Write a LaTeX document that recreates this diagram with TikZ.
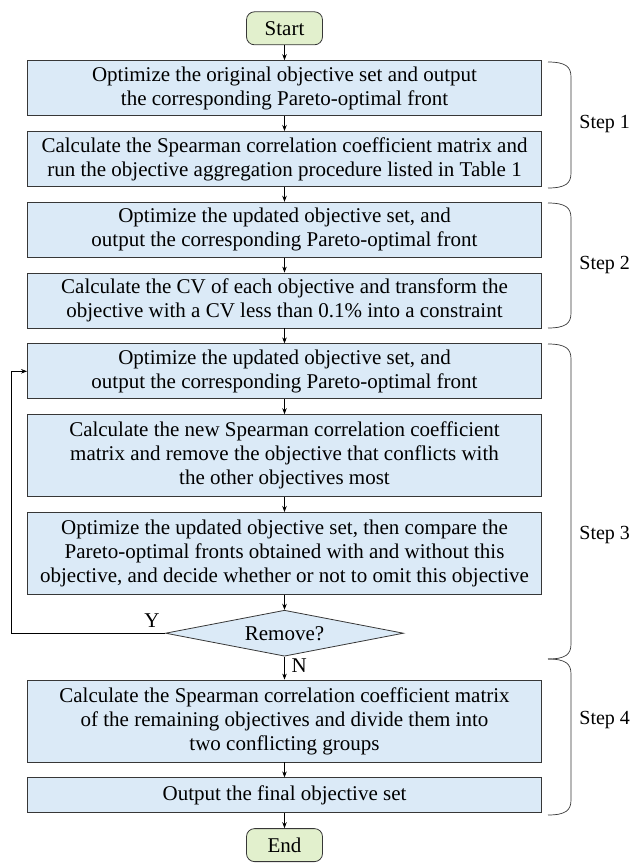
\documentclass[tikz,border=0pt]{standalone}
\usepackage{fontspec}
\setmainfont{Liberation Serif}
\usepackage{tikz}
\usetikzlibrary{arrows.meta,positioning,shapes.geometric}

\definecolor{boxblue}{RGB}{219,234,247}
\definecolor{termgreen}{RGB}{226,240,205}
\definecolor{edgegray}{RGB}{55,55,55}

\begin{document}
\begin{tikzpicture}[x=1pt,y=-1pt,->,>={Stealth[length=6pt,width=4.5pt]},node distance=15pt,
    font=\fontsize{21}{24}\selectfont,line width=0.8pt,
    proc/.style={rectangle,draw=edgegray,fill=boxblue,align=center,minimum width=514pt,minimum height=55pt,inner sep=2pt},
    term/.style={rectangle,rounded corners=8pt,draw=edgegray,fill=termgreen,minimum width=76pt,minimum height=33pt},
    test/.style={diamond,aspect=5.2,draw=edgegray,fill=boxblue,minimum width=238pt,minimum height=46pt,inner sep=0pt},
    brc/.style={-,line width=0.7pt,draw=edgegray},
    steplabel/.style={anchor=west,inner sep=0pt,font=\fontsize{20}{24}\selectfont}]

	\useasboundingbox (0,0) rectangle (632,863);

	\node[term] (start) at (284.5,28.3) {Start};
	\node[proc] (b1) [below=of start] {Optimize the original objective set and output\\the corresponding Pareto-optimal front};
	\node[proc] (b2) [below=of b1] {Calculate the Spearman correlation coefficient matrix and\\run the objective aggregation procedure listed in Table 1};
	\node[proc] (b3) [below=of b2] {Optimize the updated objective set, and\\output the corresponding Pareto-optimal front};
	\node[proc] (b4) [below=of b3] {Calculate the CV of each objective and transform the\\objective with a CV less than 0.1\% into a constraint};
	\node[proc] (b5) [below=of b4] {Optimize the updated objective set, and\\output the corresponding Pareto-optimal front};
	\node[proc,minimum height=82pt] (b6) [below=of b5] {Calculate the new Spearman correlation coefficient\\matrix and remove the objective that conflicts with\\the other objectives most};
	\node[proc,minimum height=82pt] (b7) [below=of b6] {Optimize the updated objective set, then compare the\\Pareto-optimal fronts obtained with and without this\\objective, and decide whether or not to omit this objective};
	\node[test] (rm) [below=of b7] {Remove?};
	\node[proc,minimum height=82pt] (b8) [below=23pt of rm] {Calculate the Spearman correlation coefficient matrix\\of the remaining objectives and divide them into\\two conflicting groups};
	\node[proc,minimum height=35pt] (b9) [below=of b8] {Output the final objective set};
	\node[term] (end) [below=of b9] {End};

	\coordinate (lx) at (11.5,0);
	\node (ylab) at (152,621) {Y};
	\node[anchor=west] (nlab) at (288,666) {N};

	\path
	(start) edge (b1)
	(b1) edge (b2)
	(b2) edge (b3)
	(b3) edge (b4)
	(b4) edge (b5)
	(b5) edge (b6)
	(b6) edge (b7)
	(b7) edge (rm)
	(rm) edge (b8)
	(b8) edge (b9)
	(b9) edge (end);

	\draw (rm.west) -- (rm.west -| lx) |- (b5.west);

	% braces for the steps
	\draw[brc] (548,62) .. controls (566,62) and (571,67) .. (571,77) -- (571,173) .. controls (571,183) and (566,188) .. (548,188);
	\draw[brc] (548,203) .. controls (566,203) and (571,208) .. (571,218) -- (571,313) .. controls (571,323) and (566,328) .. (548,328);
	\draw[brc] (548,344) .. controls (566,344) and (571,349) .. (571,359) -- (571,644) .. controls (571,654) and (566,659) .. (548,659);
	\draw[brc] (548,659) .. controls (566,659) and (571,664) .. (571,674) -- (571,800) .. controls (571,810) and (566,815) .. (548,815);

	\node[steplabel] (s1) at (579,124) {Step 1};
	\node[steplabel] (s2) at (579,265) {Step 2};
	\node[steplabel] (s3) at (579,535) {Step 3};
	\node[steplabel] (s4) at (579,720) {Step 4};

\end{tikzpicture}
\end{document}
